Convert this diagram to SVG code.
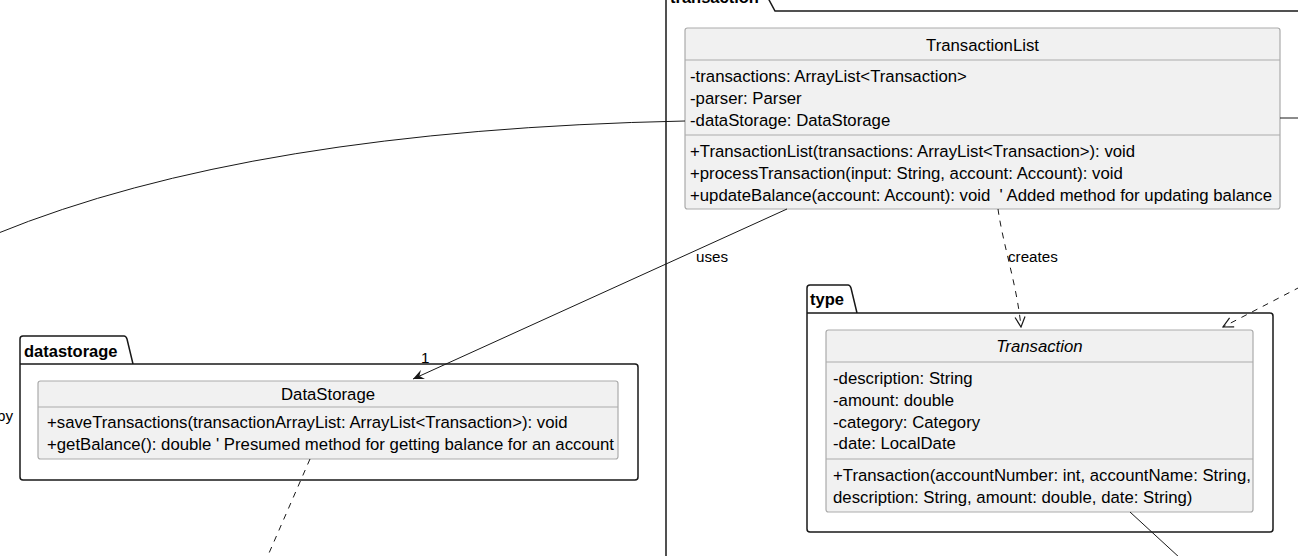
<svg xmlns="http://www.w3.org/2000/svg" width="1298" height="556" viewBox="0 0 1298 556">
<defs>
<style>
.pkg{fill:none;stroke:#181818;stroke-width:1.5}
.cls{fill:#F1F1F1;stroke:#ABABAB;stroke-width:1.2}
.sep{stroke:#ABABAB;stroke-width:1.2}
.t{font-family:"Liberation Sans",Arial,sans-serif;font-size:16.75px;fill:#000;white-space:pre}
.pl{font-family:"Liberation Sans",Arial,sans-serif;font-size:16.5px;font-weight:bold;fill:#000}
.lbl{font-family:"Liberation Sans",Arial,sans-serif;font-size:15.2px;fill:#000}
.ln{fill:none;stroke:#181818;stroke-width:1}
.dash{stroke-dasharray:6,6}
</style>
<marker id="arrF" viewBox="0 0 12 10" refX="11" refY="5" markerWidth="12" markerHeight="10" markerUnits="userSpaceOnUse" orient="auto">
<path d="M0,0 L11,5 L0,10 L4,5 Z" fill="#181818"/>
</marker>
<marker id="arrO" viewBox="0 0 12 12" refX="11" refY="6" markerWidth="12" markerHeight="12" markerUnits="userSpaceOnUse" orient="auto">
<path d="M1,1 L11,6 L1,11" fill="none" stroke="#181818" stroke-width="1.2"/>
</marker>
</defs>
<rect width="1298" height="556" fill="#FFFFFF"/>

<g id="pkg-transaction">
<path class="pkg" d="M666,11 V-20 H762 L768,-2 L775,11 H1310 M666,11 V570"/>
<text class="pl" x="670" y="3">transaction</text>
</g>

<g id="pkg-datastorage">
<path class="pkg" d="M20,364 V339 Q20,336 23,336 H124 Q126,336 127,339 L133,364 M20,364 H635 Q638,364 638,367 V477 Q638,480 635,480 H23 Q20,480 20,477 Z"/>
<text class="pl" x="24" y="357">datastorage</text>
</g>

<g id="pkg-type">
<path class="pkg" d="M807,313 V288 Q807,285 810,285 H848 Q850,285 851,288 L857,313 M807,313 H1270 Q1273,313 1273,316 V529 Q1273,532 1270,532 H810 Q807,532 807,529 Z"/>
<text class="pl" x="810" y="305">type</text>
</g>

<g id="TransactionList">
<rect class="cls" x="685" y="28" width="595" height="181" rx="2.5"/>
<line class="sep" x1="685" y1="60" x2="1280" y2="60"/>
<line class="sep" x1="685" y1="135" x2="1280" y2="135"/>
<text class="t" x="982.5" y="51" text-anchor="middle">TransactionList</text>
<text class="t" x="690" y="82">-transactions: ArrayList&lt;Transaction&gt;</text>
<text class="t" x="690" y="104">-parser: Parser</text>
<text class="t" x="690" y="126">-dataStorage: DataStorage</text>
<text class="t" x="690" y="157">+TransactionList(transactions: ArrayList&lt;Transaction&gt;): void</text>
<text class="t" x="690" y="179">+processTransaction(input: String, account: Account): void</text>
<text class="t" x="690" y="201">+updateBalance(account: Account): void  ' Added method for updating balance</text>
</g>

<g id="DataStorage">
<rect class="cls" x="38" y="381" width="580" height="78" rx="2.5"/>
<line class="sep" x1="38" y1="407" x2="618" y2="407"/>
<text class="t" x="328" y="400" text-anchor="middle">DataStorage</text>
<text class="t" x="47" y="428">+saveTransactions(transactionArrayList: ArrayList&lt;Transaction&gt;): void</text>
<text class="t" x="47" y="450">+getBalance(): double ' Presumed method for getting balance for an account</text>
</g>

<g id="Transaction">
<rect class="cls" x="826" y="330" width="427" height="182" rx="2.5"/>
<line class="sep" x1="826" y1="362" x2="1253" y2="362"/>
<line class="sep" x1="826" y1="459" x2="1253" y2="459"/>
<text class="t" x="1039.5" y="352" text-anchor="middle" font-style="italic">Transaction</text>
<text class="t" x="833" y="384">-description: String</text>
<text class="t" x="833" y="406">-amount: double</text>
<text class="t" x="833" y="428">-category: Category</text>
<text class="t" x="833" y="449">-date: LocalDate</text>
<text class="t" x="833" y="481">+Transaction(accountNumber: int, accountName: String,</text>
<text class="t" x="833" y="503">description: String, amount: double, date: String)</text>
</g>

<g id="connectors">
<path class="ln" d="M-4,234 Q250,130 685,121"/>
<path class="ln" d="M1280,118 H1300"/>
<path class="ln" d="M787,209 L413,379" marker-end="url(#arrF)"/>
<path class="ln dash" d="M998,209 C1003,245 1017,285 1021,327" marker-end="url(#arrO)"/>
<path class="ln dash" d="M1300,287 L1223,327" marker-end="url(#arrO)"/>
<path class="ln" d="M1130,512 L1180,558"/>
<path class="ln dash" d="M310,459 L266,560"/>
<text class="lbl" x="696" y="262">uses</text>
<text class="lbl" x="1008" y="262">creates</text>
<text class="lbl" x="421" y="363">1</text>
<text class="lbl" x="-3" y="421">by</text>
</g>
</svg>
